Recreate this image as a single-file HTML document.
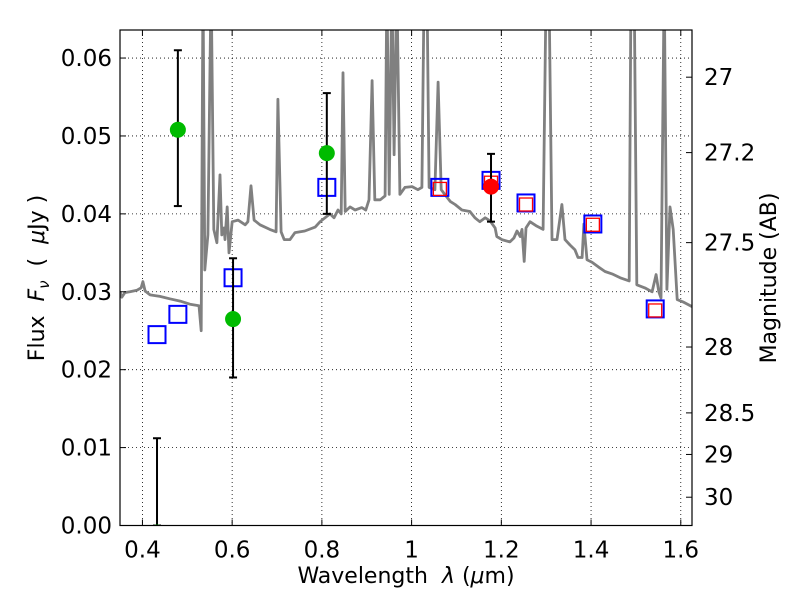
<!DOCTYPE html>
<html><head><meta charset="utf-8"><style>
html,body{margin:0;padding:0;background:#fff;width:800px;height:600px;overflow:hidden}
svg text{font-family:"DejaVu Sans","Liberation Sans",sans-serif;fill:#000}
</style></head><body>
<svg id="chart" width="800" height="600" xmlns="http://www.w3.org/2000/svg"></svg>
<script>
const specWave=[0.350,0.354,0.361,0.372,0.388,0.397,0.401,0.406,0.417,0.439,0.461,0.484,0.506,0.526,0.531,0.535,0.539,0.546,0.553,0.559,0.566,0.573,0.577,0.582,0.584,0.589,0.593,0.600,0.613,0.629,0.635,0.642,0.649,0.662,0.684,0.698,0.702,0.709,0.716,0.729,0.740,0.762,0.785,0.796,0.807,0.818,0.827,0.836,0.843,0.847,0.852,0.863,0.874,0.889,0.898,0.905,0.912,0.918,0.930,0.941,0.945,0.950,0.956,0.961,0.967,0.974,0.985,1.001,1.014,1.023,1.028,1.034,1.039,1.052,1.059,1.066,1.074,1.086,1.097,1.112,1.130,1.141,1.152,1.164,1.175,1.186,1.190,1.201,1.219,1.228,1.235,1.242,1.246,1.251,1.255,1.264,1.277,1.293,1.300,1.306,1.313,1.324,1.335,1.342,1.353,1.364,1.371,1.380,1.384,1.391,1.402,1.416,1.431,1.447,1.465,1.485,1.489,1.496,1.502,1.520,1.536,1.545,1.551,1.556,1.563,1.569,1.576,1.583,1.592,1.605,1.625];
const specFlux=[0.0300,0.0293,0.0299,0.0300,0.0302,0.0305,0.0313,0.0301,0.0296,0.0294,0.0291,0.0288,0.0284,0.0282,0.0250,0.07,0.0328,0.0373,0.07,0.0380,0.0363,0.0450,0.0373,0.0382,0.0367,0.0409,0.0350,0.0390,0.0392,0.0386,0.0390,0.0436,0.0392,0.0386,0.0380,0.0377,0.0547,0.0377,0.0367,0.0367,0.0376,0.0378,0.0383,0.0390,0.0395,0.0400,0.0395,0.0405,0.0400,0.0581,0.0403,0.0409,0.0405,0.0408,0.0405,0.0418,0.0571,0.0418,0.0418,0.0423,0.07,0.0425,0.07,0.0476,0.07,0.0425,0.0434,0.0435,0.0431,0.0434,0.07,0.07,0.0434,0.0431,0.0569,0.0431,0.0425,0.0416,0.0412,0.0405,0.0403,0.0395,0.0390,0.0395,0.0391,0.0382,0.0371,0.0367,0.0364,0.0369,0.0378,0.0371,0.0380,0.0339,0.0382,0.0390,0.0385,0.0380,0.07,0.07,0.0367,0.0367,0.0412,0.0367,0.0360,0.0354,0.0344,0.0344,0.0387,0.0341,0.0338,0.0332,0.0326,0.0323,0.0318,0.0314,0.07,0.07,0.0309,0.0305,0.0300,0.0322,0.0300,0.0292,0.07,0.0303,0.0409,0.0380,0.0290,0.0287,0.0281];
const greenWave=[0.4325,0.479,0.602,0.811];
const greenFlux=[-0.0009,0.0508,0.0265,0.0478];
const greenLo=[0.0,0.041,0.019,0.040];
const greenHi=[0.0112,0.061,0.0343,0.0555];
const redWave=[1.177];
const redFlux=[0.0435];
const redLo=[0.039];
const redHi=[0.0477];
const blueWave=[0.4325,0.479,0.602,0.811,1.063,1.177,1.255,1.404,1.543];
const blueFlux=[0.0245,0.0271,0.0318,0.0434,0.0434,0.0443,0.0414,0.0387,0.0278];
const modelWave=[1.063,1.177,1.255,1.404,1.543];
const modelFlux=[0.0432,0.0440,0.0412,0.0386,0.0276];
const xTicks=[0.4,0.6,0.8,1.0,1.2,1.4,1.6];
const xTickLabels=["0.4","0.6","0.8","1","1.2","1.4","1.6"];
const yTicks=[0,0.01,0.02,0.03,0.04,0.05,0.06];
const yTickLabels=["0.00","0.01","0.02","0.03","0.04","0.05","0.06"];
const magTicks=[27,27.2,27.5,28,28.5,29,30];
const magTickLabels=["27","27.2","27.5","28","28.5","29","30"];

const L=120,R=692,T=30,B=525.5;
const xMin=0.35,xMax=1.625,yMin=0,yMax=0.0636;
const X=v=>L+(v-xMin)/(xMax-xMin)*(R-L);
const Y=v=>B-(v-yMin)/(yMax-yMin)*(B-T);
const NS="http://www.w3.org/2000/svg";
const svg=document.getElementById('chart');
function mk(tag,attrs,parent){const e=document.createElementNS(NS,tag);for(const k in attrs)e.setAttribute(k,attrs[k]);(parent||svg).appendChild(e);return e;}

const defs=mk('defs',{});
const cp=mk('clipPath',{id:'clip'},defs);
mk('rect',{x:L,y:T,width:R-L,height:B-T},cp);

const grid=mk('g',{});


xTicks.forEach(v=>{mk('line',{x1:X(v),x2:X(v),y1:T,y2:B,stroke:'#000','stroke-width':0.8,'stroke-dasharray':'1,3'},grid);});
yTicks.forEach(v=>{mk('line',{x1:L,x2:R,y1:Y(v),y2:Y(v),stroke:'#000','stroke-width':0.8,'stroke-dasharray':'1,3'},grid);});

const plot=mk('g',{'clip-path':'url(#clip)'});
let d='';
specWave.forEach((w,i)=>{d+=(i?'L':'M')+X(w).toFixed(1)+','+Y(specFlux[i]).toFixed(1);});
const spec=mk('path',{d:d,fill:'none',stroke:'#808080','stroke-width':2.8,'stroke-linejoin':'round'},plot);



function errbar(w,lo,hi){
  const g=mk('g',{stroke:'#000','stroke-width':2},plot);
  
  
  mk('line',{x1:X(w),x2:X(w),y1:Y(lo),y2:Y(hi)},g);
  mk('line',{x1:X(w)-4,x2:X(w)+4,y1:Y(hi),y2:Y(hi)},g);
  mk('line',{x1:X(w)-4,x2:X(w)+4,y1:Y(lo),y2:Y(lo)},g);
}
blueWave.forEach((w,i)=>{
  const r=mk('rect',{x:X(w)-8.5,y:Y(blueFlux[i])-8.5,width:17,height:17,fill:'none',stroke:'#0000ff','stroke-width':2},plot);
  
  
});
modelWave.forEach((w,i)=>{
  const r=mk('rect',{x:X(w)-6.5,y:Y(modelFlux[i])-6.5,width:13,height:13,fill:'none',stroke:'#ff0000','stroke-width':1.3},plot);
  
  
});
greenWave.forEach((w,i)=>errbar(w,greenLo[i],greenHi[i]));
redWave.forEach((w,i)=>errbar(w,redLo[i],redHi[i]));
greenWave.forEach((w,i)=>{
  const c=mk('circle',{cx:X(w),cy:Y(greenFlux[i]),r:8,fill:'#00bb00'},plot);
  
  
});
redWave.forEach((w,i)=>{
  const c=mk('circle',{cx:X(w),cy:Y(redFlux[i]),r:8,fill:'#ff0000'},plot);
  
  
});

const frame=mk('rect',{x:L,y:T,width:R-L,height:B-T,fill:'none',stroke:'#000','stroke-width':1.2});



xTicks.forEach((v,i)=>{
  mk('line',{x1:X(v),x2:X(v),y1:B,y2:B-6,stroke:'#000'});
  mk('line',{x1:X(v),x2:X(v),y1:T,y2:T+6,stroke:'#000'});
  const t=mk('text',{x:X(v),y:B+32,'text-anchor':'middle','font-size':23});
  t.textContent=xTickLabels[i];
  
  
});
yTicks.forEach((v,i)=>{
  mk('line',{x1:L,x2:L+6,y1:Y(v),y2:Y(v),stroke:'#000'});
  const t=mk('text',{x:L-8,y:Y(v)+8,'text-anchor':'end','font-size':23});
  t.textContent=yTickLabels[i];
  
  
});
magTicks.forEach((m,i)=>{
  const f=Math.pow(10,(23.9-m)/2.5);
  mk('line',{x1:R,x2:R-6,y1:Y(f),y2:Y(f),stroke:'#000'});
  const t=mk('text',{x:R+12,y:Y(f)+8,'text-anchor':'start','font-size':23});
  t.textContent=magTickLabels[i];
  
  
});
</script>
<svg style="position:absolute;left:0;top:0" width="800" height="600" xmlns="http://www.w3.org/2000/svg">
<text x="406" y="583" text-anchor="middle" font-size="22" font-family="DejaVu Sans, sans-serif" xml:space="preserve">Wavelength  <tspan font-style="italic">λ</tspan> (<tspan font-style="italic">μ</tspan>m)</text>
<text transform="translate(44,278) rotate(-90)" text-anchor="middle" font-size="22" font-family="DejaVu Sans, sans-serif" xml:space="preserve">Flux  <tspan font-style="italic">F</tspan><tspan font-style="italic" font-size="15" dy="5">ν</tspan><tspan dy="-5">  (  </tspan><tspan font-style="italic">μ</tspan>Jy )</text>
<text transform="translate(776,278) rotate(-90)" text-anchor="middle" font-size="22" font-family="DejaVu Sans, sans-serif">Magnitude (AB)</text>
</svg>
</body></html>
